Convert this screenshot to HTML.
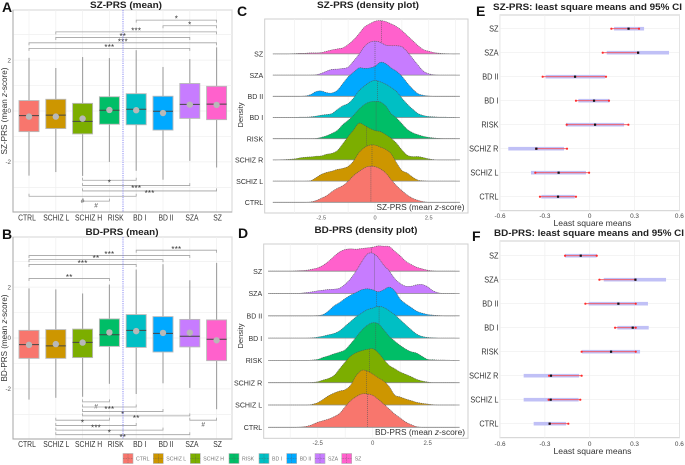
<!DOCTYPE html>
<html>
<head>
<meta charset="utf-8">
<style>
html,body{margin:0;padding:0;background:#fff;width:685px;height:465px;overflow:hidden}
svg{display:block;font-family:"Liberation Sans",sans-serif;filter:blur(0.3px)}
</style>
</head>
<body>
<svg id="fig" width="685" height="465" viewBox="0 0 685 465" xmlns="http://www.w3.org/2000/svg">
  <g id="panelA"></g>
  <g id="panelB"></g>
  <g id="panelC"></g>
  <g id="panelD"></g>
  <g id="panelE"></g>
  <g id="panelF"></g>
  <g id="legend"></g>

  <g fill="#111" font-weight="bold" font-size="14">
    <text x="2" y="12">A</text>
    <text x="2" y="239">B</text>
    <text x="237" y="16">C</text>
    <text x="238" y="238">D</text>
    <text x="476" y="16">E</text>
    <text x="472" y="241">F</text>
  </g>
  <g fill="#222" font-weight="bold" font-size="9.5">
    <text x="126" y="8" text-anchor="middle" textLength="72" lengthAdjust="spacingAndGlyphs">SZ-PRS (mean)</text>
    <text x="122" y="235" text-anchor="middle" textLength="73" lengthAdjust="spacingAndGlyphs">BD-PRS (mean)</text>
    <text x="368" y="8" text-anchor="middle" textLength="102" lengthAdjust="spacingAndGlyphs">SZ-PRS (density plot)</text>
    <text x="366" y="233" text-anchor="middle" textLength="103" lengthAdjust="spacingAndGlyphs">BD-PRS (density plot)</text>
    <text x="493" y="10" textLength="189" lengthAdjust="spacingAndGlyphs">SZ-PRS: least square means and 95% CI</text>
    <text x="494" y="236" textLength="190" lengthAdjust="spacingAndGlyphs">BD-PRS: least square means and 95% CI</text>
  </g>
  <g fill="#333" font-size="8">
    <text transform="translate(7 111) rotate(-90)" text-anchor="middle" textLength="87" lengthAdjust="spacingAndGlyphs">SZ-PRS (mean <tspan font-style="italic">z</tspan>-score)</text>
    <text transform="translate(7 338) rotate(-90)" text-anchor="middle" textLength="87" lengthAdjust="spacingAndGlyphs">BD-PRS (mean <tspan font-style="italic">z</tspan>-score)</text>
    <text transform="translate(243 115) rotate(-90)" text-anchor="middle" font-size="7.5">Density</text>
    <text transform="translate(243 336) rotate(-90)" text-anchor="middle" font-size="7.5">Density</text>
    <text x="376.5" y="210" textLength="88" lengthAdjust="spacingAndGlyphs">SZ-PRS (mean <tspan font-style="italic">z</tspan>-score)</text>
    <text x="375" y="435" textLength="90" lengthAdjust="spacingAndGlyphs">BD-PRS (mean <tspan font-style="italic">z</tspan>-score)</text>
    <text x="592.5" y="226" text-anchor="middle" textLength="78" lengthAdjust="spacingAndGlyphs">Least square means</text>
    <text x="592.5" y="454" text-anchor="middle" textLength="78" lengthAdjust="spacingAndGlyphs">Least square means</text>
  </g>
</svg>

<script>
/* shared categories */
const boxCategories = ['CTRL','SCHIZ L','SCHIZ H','RISK','BD I','BD II','SZA','SZ'];
const ridgeCategories = ['CTRL','SCHIZ L','SCHIZ R','RISK','BD I','BD II','SZA','SZ'];
const groupColors = ['#F8766D','#CD9600','#7CAE00','#00BE67','#00BFC4','#00A9FF','#C77CFF','#FF61CC'];
const boxAxisTicks = [2,0,-2];

/* panel A values */
const szLow = [-2.54,-2.4,-2.55,-2.0,-2.35,-2.7,-1.96,-2.22];
const szQ1 = [-0.81,-0.69,-0.9,-0.52,-0.54,-0.75,-0.29,-0.34];
const szMedian = [-0.18,-0.16,-0.41,0.03,0.07,-0.01,0.26,0.27];
const szQ3 = [0.41,0.46,0.3,0.56,0.68,0.58,1.08,0.97];
const szHigh = [2.09,1.69,2.12,2.08,2.39,1.73,2.04,2.5];
const szMean = [-0.22,-0.22,-0.3,0.04,0.03,-0.08,0.25,0.24];
/* from-group, to-group, z level, label */
const szBrackets = [[4,7,3.57,'*'],[5,7,3.35,'*'],[1,7,3.11,'***'],[1,6,2.89,'**'],[0,7,2.68,'***'],[0,6,2.46,'***'],
  [2,4,-2.72,'*'],[2,6,-2.93,'***'],[2,7,-3.14,'***'],[0,4,-3.35,'#'],[2,3,-3.54,'#']];

/* panel B values */
const bdLow = [-2.42,-2.35,-2.31,-1.8,-2.2,-1.78,-1.96,-2.8];
const bdQ1 = [-0.8,-0.8,-0.77,-0.33,-0.37,-0.55,-0.35,-0.89];
const bdMedian = [-0.26,-0.31,-0.17,0.13,0.3,0.18,0.07,-0.05];
const bdQ3 = [0.3,0.33,0.35,0.75,0.92,0.84,0.73,0.71];
const bdHigh = [1.95,1.91,1.75,2.1,2.69,2.9,2.27,2.95];
const bdMean = [-0.27,-0.24,-0.18,0.22,0.27,0.2,0.21,-0.09];
const bdBrackets = [[4,7,3.45,'***'],[0,6,3.24,'***'],[0,5,3.08,'**'],[0,4,2.89,'***'],[0,3,2.34,'**'],
  [2,3,-2.51,'#'],[2,4,-2.71,'***'],[2,5,-2.89,'*'],[2,6,-3.06,'**'],[6,7,-3.23,'#'],[1,3,-3.23,'*'],
  [1,4,-3.44,'***'],[1,5,-3.62,'*'],[1,6,-3.8,'**']];

/* density grid shared by panels C and D */
const densityGrid = [-4.75,-4.25,-3.75,-3.5,-3.25,-3,-2.75,-2.5,-2.25,-2,-1.75,-1.5,-1.25,-1,-0.75,-0.5,-0.25,0,0.25,0.5,0.75,1,1.25,1.5,1.75,2,2.25,2.5,2.75,3,3.25,3.75];
const densityTicks = [-2.5,0,2.5];

/* panel C densities */
const szDensityCTRL = [0,0,0,0,0,1,5,12,20,32,42,50,63,80,92,103,108,107,100,88,68,50,35,22,12,6,2,0,0,0,0,0];
const szDensitySCHIZL = [0,0,0,0,0,1,10,20,26,30,35,38,44,60,85,100,108,108,102,95,82,55,32,24,12,3,1,0,0,0,0,0];
const szDensitySCHIZR = [0,1,3,6,8,9,11,12,17,20,28,48,70,90,110,104,95,88,85,76,65,50,30,14,10,10,7,3,1,0,0,0];
const szDensityRISK = [0,0,0,0,0,0,1,4,9,16,25,42,55,70,88,102,110,112,110,98,75,62,45,28,18,12,7,4,2,1,0,0];
const szDensityBD1 = [0,0,0,1,1,2,4,7,9,12,24,35,42,58,80,94,106,111,107,100,90,78,58,40,25,12,6,3,2,1,1,0];
const szDensityBD2 = [0,0,0,0,1,5,14,16,11,10,18,38,58,72,85,84,85,90,102,98,85,75,60,40,22,8,3,1,0,0,0,0];
const szDensitySZA = [0,0,0,0,0,0,1,5,12,17,18,20,24,42,62,85,98,102,98,90,88,88,85,70,50,30,12,4,1,0,0,0];
const szDensitySZ = [0,0,1,2,2,3,3,4,8,12,15,18,28,42,60,80,90,98,100,97,90,82,70,55,40,25,13,8,4,2,1,0];
const szDensityMeans = [-0.19,-0.14,-0.4,0.05,0.12,0,0,0.31];

/* panel D densities */
const bdDensityCTRL = [0,0,0,0,1,3,8,15,20,25,32,42,62,80,92,100,100,96,84,70,55,40,28,16,8,2,0,0,0,0,0,0];
const bdDensitySCHIZL = [0,0,0,0,0,0,2,7,17,28,36,42,46,60,88,104,102,93,82,72,55,30,24,18,13,8,5,3,1,0,0,0];
const bdDensitySCHIZR = [0,0,0,0,0,0,1,3,8,13,22,42,62,80,90,96,100,102,90,70,52,42,32,25,18,10,5,2,0,0,0,0];
const bdDensityRISK = [0,0,0,0,0,0,1,3,9,14,20,25,32,50,70,90,105,113,110,92,72,58,45,34,26,22,12,3,2,1,1,0];
const bdDensityBD1 = [0,0,0,0,0,0,1,3,6,10,14,22,36,50,64,75,85,90,95,92,82,70,55,40,25,12,5,2,1,0,0,0];
const bdDensityBD2 = [0,0,0,0,0,0,0,1,4,15,30,40,52,62,70,78,81,78,72,78,86,75,50,36,25,14,8,4,2,1,0,0];
const bdDensitySZA = [0,0,0,0,1,3,5,8,10,12,13,16,28,45,68,95,118,121,108,85,68,45,30,22,22,26,27,20,8,2,0,0];
const bdDensitySZ = [0,0,0,1,2,3,6,10,18,30,45,58,65,67,66,68,70,72,76,75,74,60,46,30,20,12,7,3,1,0,0,0];
const bdDensityMeans = [-0.23,-0.29,-0.14,0.14,0.29,0.18,0.08,-0.05];

/* panels E, F values */
const lsCategories = ['SZ','SZA','BD II','BD I','RISK','SCHIZ R','SCHIZ L','CTRL'];
const lsTicks = [-0.6,-0.3,0,0.3,0.6];
const lsTickLabels = ['-0.6','-0.3','0','0.3','0.6'];
const szCiLow = [0.163,0.114,-0.295,-0.076,-0.158,-0.545,-0.393,-0.324];
const szCiHigh = [0.364,0.531,0.103,0.132,0.23,-0.172,-0.025,-0.1];
const szArrowLow = [0.145,0.087,-0.315,-0.092,-0.154,-0.359,-0.364,-0.333];
const szArrowHigh = [0.33,0.324,0.109,0.129,0.259,-0.152,-0.004,-0.092];
const szLsMean = [0.26,0.324,-0.098,0.029,0.036,-0.357,-0.208,-0.212];
const bdCiLow = [-0.165,0.094,-0.007,0.185,-0.051,-0.442,-0.442,-0.375];
const bdCiHigh = [0.047,0.511,0.39,0.395,0.337,-0.071,-0.074,-0.158];
const bdArrowLow = [-0.165,0.065,-0.029,0.17,-0.054,-0.272,-0.275,-0.268];
const bdArrowHigh = [0.047,0.306,0.308,0.308,0.308,-0.054,-0.063,-0.143];
const bdLsMean = [-0.06,0.306,0.192,0.288,0.143,-0.259,-0.261,-0.268];

const NS = 'http://www.w3.org/2000/svg';
function add(parent, tag, attrs, text) {
  const el = document.createElementNS(NS, tag);
  for (const k in attrs) el.setAttribute(k, attrs[k]);
  if (text !== undefined) el.textContent = text;
  parent.appendChild(el);
  return el;
}
function squeeze(el, factor) {
  el.setAttribute('textLength', (el.getComputedTextLength() * factor).toFixed(2));
  el.setAttribute('lengthAdjust', 'spacingAndGlyphs');
}
const slug = s => String(s).toLowerCase().replace(/[^a-z0-9]+/g, '-');

function drawBoxPanel(root, cfg) {
  const xOf = i => cfg.x0 + i * 26.8;
  const yOf = v => cfg.zero - v * 25.45;
  const tickLabelNudge = [-2, 0.5, 6, 6.3, 3.5, 3, 2.2, 1];

  const bg = add(root, 'rect', {x: 13, y: cfg.top, width: 219, height: cfg.bottom - cfg.top, fill: '#fff', stroke: '#dcdcdc', 'stroke-width': 1.2});
  
  

  [3,1,-1,-3].concat(boxAxisTicks).forEach(v => {
    const g = add(root, 'line', {x1: 13, x2: 232, y1: yOf(v), y2: yOf(v), stroke: '#efefef', 'stroke-width': 0.7});
    
    
  });
  boxCategories.forEach((c, i) => {
    const g = add(root, 'line', {x1: xOf(i), x2: xOf(i), y1: cfg.top, y2: cfg.bottom, stroke: '#efefef', 'stroke-width': 0.7});
    
    
  });

  const axis = add(root, 'path', {d: `M13 ${cfg.top}V${cfg.bottom}H232`, fill: 'none', stroke: '#a8a8a8', 'stroke-width': 0.9});
  
  

  boxAxisTicks.forEach(v => {
    const t = add(root, 'text', {x: 11, y: yOf(v) + 2.2, 'text-anchor': 'end', 'font-size': 6.2, fill: '#555'}, String(v));
    
    
  });

  boxCategories.forEach((c, i) => {
    const x = xOf(i);
    const whisker = add(root, 'line', {x1: x, x2: x, y1: yOf(cfg.high[i]), y2: yOf(cfg.low[i]), stroke: '#a0a0a0', 'stroke-width': 1.1});
    
    

    const box = add(root, 'rect', {x: x - 10, y: yOf(cfg.q3[i]), width: 20, height: yOf(cfg.q1[i]) - yOf(cfg.q3[i]), fill: groupColors[i], stroke: '#b9b9b9', 'stroke-width': 0.9});
    
    

    const median = add(root, 'line', {x1: x - 10, x2: x + 10, y1: yOf(cfg.median[i]), y2: yOf(cfg.median[i]), stroke: '#444', 'stroke-width': 1});
    
    

    const mean = add(root, 'circle', {cx: x, cy: yOf(cfg.mean[i]), r: 3.2, fill: '#b8b8b8'});
    
    

    const tick = add(root, 'text', {x: x + tickLabelNudge[i], y: cfg.tickY, 'text-anchor': 'middle', 'font-size': 7.8, fill: '#333'}, c);
    
    
    squeeze(tick, 0.87);
  });

  cfg.brackets.forEach(b => {
    const y = yOf(b[2]);
    const dir = b[2] > 0 ? 1 : -1;
    const x1 = xOf(b[0]), x2 = xOf(b[1]);
    const br = add(root, 'path', {d: `M${x1} ${y + 2.5 * dir}V${y}H${x2}V${y + 2.5 * dir}`, fill: 'none', stroke: '#a2a2a2', 'stroke-width': 0.8});
    
    
    const isHash = b[3] === '#';
    const labelY = dir > 0 ? y + 1.6 : y + (isHash ? 6.5 : 5.2);
    const lab = add(root, 'text', {x: (x1 + x2) / 2, y: labelY, 'text-anchor': 'middle', 'font-size': isHash ? 6.5 : 8, fill: '#333', 'letter-spacing': isHash ? 0 : 0.2}, b[3]);
    
    
  });

  const ref = add(root, 'line', {x1: 123, x2: 123, y1: cfg.top, y2: cfg.bottom, stroke: '#6f6ff0', 'stroke-width': 0.8, 'stroke-dasharray': '1.2 1'});
  
  
}

function smoothPath(pts) {
  let d = `M${pts[0][0].toFixed(2)} ${pts[0][1].toFixed(2)}`;
  for (let i = 0; i < pts.length - 1; i++) {
    const p0 = pts[Math.max(0, i - 1)], p1 = pts[i], p2 = pts[i + 1], p3 = pts[Math.min(pts.length - 1, i + 2)];
    const c1x = p1[0] + (p2[0] - p0[0]) / 6, c1y = Math.min(p1[1] + (p2[1] - p0[1]) / 6, pts[0][1]);
    const c2x = p2[0] - (p3[0] - p1[0]) / 6, c2y = Math.min(p2[1] - (p3[1] - p1[1]) / 6, pts[0][1]);
    d += `C${c1x.toFixed(2)} ${c1y.toFixed(2)} ${c2x.toFixed(2)} ${c2y.toFixed(2)} ${p2[0].toFixed(2)} ${p2[1].toFixed(2)}`;
  }
  return d;
}

function drawRidgePanel(root, cfg) {
  const xOf = z => cfg.zeroX + z * cfg.scaleX;
  const baseOf = i => cfg.ctrlBase - i * cfg.step;
  const hOf = d => d / 3;

  const frame = add(root, 'rect', {x: cfg.left, y: cfg.top, width: 468 - cfg.left, height: cfg.bottom - cfg.top, fill: '#fff', stroke: '#cfcfcf', 'stroke-width': 1});
  
  

  [-3.75,-2.5,-1.25,0,1.25,2.5,3.75].forEach(z => {
    const g = add(root, 'line', {x1: xOf(z), x2: xOf(z), y1: cfg.top, y2: cfg.bottom, stroke: '#f0f0f0', 'stroke-width': 0.7});
    
    
  });

  densityTicks.forEach(z => {
    const t = add(root, 'text', {x: xOf(z), y: cfg.tickY, 'text-anchor': 'middle', 'font-size': cfg.tickSize, fill: '#555'}, String(z));
    
    
  });

  for (let i = ridgeCategories.length - 1; i >= 0; i--) {
    const base = baseOf(i), vals = cfg.series[i], c = ridgeCategories[i];
    const pts = densityGrid.map((z, k) => [xOf(z), base - hOf(vals[k])]);
    const area = add(root, 'path', {d: smoothPath(pts) + `L${pts[pts.length - 1][0].toFixed(2)} ${base}L${pts[0][0].toFixed(2)} ${base}Z`, fill: groupColors[i], stroke: 'none'});
    
    

    const outline = add(root, 'path', {d: smoothPath(pts), fill: 'none', stroke: '#555', 'stroke-width': 0.55, 'stroke-dasharray': '1.2 0.7'});
    
    

    const m = cfg.means[i];
    let top = base;
    densityGrid.forEach((z, k) => {
      if (k < densityGrid.length - 1 && z <= m && densityGrid[k + 1] > m) {
        const f = (m - z) / (densityGrid[k + 1] - z);
        top = base - hOf(vals[k] + f * (vals[k + 1] - vals[k]));
      }
    });
    const meanLine = add(root, 'line', {x1: xOf(m), x2: xOf(m), y1: top, y2: base, stroke: '#555', 'stroke-width': 0.6, 'stroke-dasharray': '1 1'});
    
    

    const baseLine = add(root, 'line', {x1: xOf(-4.75), x2: xOf(3.95), y1: base, y2: base, stroke: '#8a8a8a', 'stroke-width': 0.8});
    
    

    const label = add(root, 'text', {x: cfg.left - 1.5, y: base + 2.7, 'text-anchor': 'end', 'font-size': 7.6, fill: '#333'}, c);
    
    
    squeeze(label, 0.93);
  }
}

function drawLsPanel(root, cfg) {
  const xOf = v => 589.7 + v * 149.4;
  const yOf = i => cfg.firstY + i * 24;

  const frame = add(root, 'rect', {x: 500, y: cfg.top, width: 179.5, height: cfg.bottom - cfg.top, fill: '#fff', stroke: '#cfcfcf', 'stroke-width': 1});
  
  

  lsTicks.forEach((v, i) => {
    const g = add(root, 'line', {x1: xOf(v), x2: xOf(v), y1: cfg.top, y2: cfg.bottom, stroke: '#eeeeee', 'stroke-width': 0.7});
    
    
    const t = add(root, 'text', {x: xOf(v), y: cfg.tickY, 'text-anchor': 'middle', 'font-size': 6.4, fill: '#444'}, lsTickLabels[i]);
    
    
  });

  lsCategories.forEach((c, i) => {
    const y = yOf(i);
    const g = add(root, 'line', {x1: 500, x2: 679.5, y1: y, y2: y, stroke: '#eeeeee', 'stroke-width': 0.7});
    
    

    const label = add(root, 'text', {x: 498.5, y: y + 2.8, 'text-anchor': 'end', 'font-size': 7.8, fill: '#333'}, c);
    
    
    squeeze(label, 0.94);

    const ci = add(root, 'rect', {x: xOf(cfg.ciLow[i]), y: y - 1.8, width: xOf(cfg.ciHigh[i]) - xOf(cfg.ciLow[i]), height: 3.6, fill: '#c0c0f6'});
    
    

    const arrow = add(root, 'line', {x1: xOf(cfg.arrowLow[i]), x2: xOf(cfg.arrowHigh[i]), y1: y, y2: y, stroke: '#f2505a', 'stroke-width': 0.9});
    
    

    const endLow = add(root, 'circle', {cx: xOf(cfg.arrowLow[i]), cy: y, r: 1.1, fill: '#ff2a2a'});
    
    

    const endHigh = add(root, 'circle', {cx: xOf(cfg.arrowHigh[i]), cy: y, r: 1.1, fill: '#ff2a2a'});
    
    

    const dot = add(root, 'rect', {x: xOf(cfg.mean[i]) - 1.1, y: y - 1.1, width: 2.2, height: 2.2, fill: '#111'});
    
    
  });
}

function drawLegend(root) {
  const starts = [123,153.3,190.3,229,259,286.7,315,341.7];
  boxCategories.forEach((c, i) => {
    const sw = add(root, 'rect', {x: starts[i], y: 453.5, width: 10, height: 10, fill: groupColors[i], stroke: '#b5b5b5', 'stroke-width': 0.6});
    
    

    const inner = add(root, 'path', {d: `M${starts[i] + 5} 454V463M${starts[i]} 458.5H${starts[i] + 10}`, stroke: '#555', 'stroke-width': 0.4, 'stroke-dasharray': '0.8 0.8', fill: 'none'});
    
    

    const t = add(root, 'text', {x: starts[i] + 13, y: 460.5, 'font-size': 5.2, fill: '#777'}, c);
    
    
  });
}

drawBoxPanel(document.getElementById('panelA'), {x0: 29, zero: 111, top: 10, bottom: 212, tickY: 220.5,
  low: szLow, q1: szQ1, median: szMedian, q3: szQ3, high: szHigh, mean: szMean, brackets: szBrackets});
drawBoxPanel(document.getElementById('panelB'), {x0: 29, zero: 338, top: 237, bottom: 439, tickY: 447,
  low: bdLow, q1: bdQ1, median: bdMedian, q3: bdQ3, high: bdHigh, mean: bdMean, brackets: bdBrackets});

drawRidgePanel(document.getElementById('panelC'), {left: 264.7, top: 19, bottom: 213, zeroX: 375, scaleX: 21.5, ctrlBase: 202.3, step: 21.2, tickY: 219.5, tickSize: 5.6,
  series: [szDensityCTRL,szDensitySCHIZL,szDensitySCHIZR,szDensityRISK,szDensityBD1,szDensityBD2,szDensitySZA,szDensitySZ], means: szDensityMeans});
drawRidgePanel(document.getElementById('panelD'), {left: 263.7, top: 244, bottom: 438.3, zeroX: 372.7, scaleX: 22, ctrlBase: 427.3, step: 22.3, tickY: 445, tickSize: 6,
  series: [bdDensityCTRL,bdDensitySCHIZL,bdDensitySCHIZR,bdDensityRISK,bdDensityBD1,bdDensityBD2,bdDensitySZA,bdDensitySZ], means: bdDensityMeans});

drawLsPanel(document.getElementById('panelE'), {top: 15, bottom: 210.7, firstY: 28.7, tickY: 218,
  ciLow: szCiLow, ciHigh: szCiHigh, arrowLow: szArrowLow, arrowHigh: szArrowHigh, mean: szLsMean});
drawLsPanel(document.getElementById('panelF'), {top: 241, bottom: 437.7, firstY: 255.7, tickY: 446,
  ciLow: bdCiLow, ciHigh: bdCiHigh, arrowLow: bdArrowLow, arrowHigh: bdArrowHigh, mean: bdLsMean});

drawLegend(document.getElementById('legend'));
</script>
</body>
</html>
